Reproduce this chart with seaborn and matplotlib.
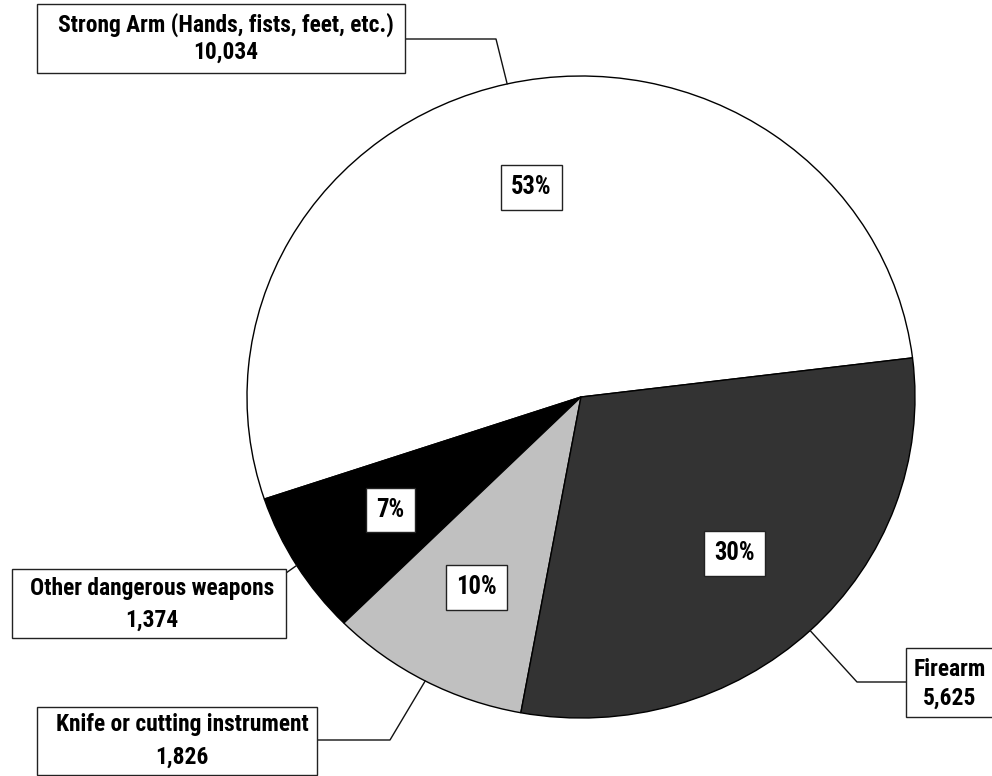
import matplotlib
matplotlib.use("Agg")
import matplotlib.pyplot as plt
from matplotlib.patches import Rectangle
from matplotlib import font_manager
from matplotlib.textpath import TextPath
from matplotlib.font_manager import FontProperties
import numpy as np
import seaborn as sns

# Aggravated assault by weapon type
categories = ["Strong Arm (Hands, fists, feet, etc.)", "Other dangerous weapons",
              "Knife or cutting instrument", "Firearm"]
counts = [10034, 1374, 1826, 5625]
count_labels = ["10,034", "1,374", "1,826", "5,625"]
colors = ["#FFFFFF", "#000000", "#C0C0C0", "#333333"]

sns.set_theme(style="white")

# pick a narrow bold face if one is installed
entries = font_manager.fontManager.ttflist
names = {f.name for f in entries}
preferred = ["Liberation Sans Narrow", "Roboto Condensed", "Open Sans Condensed",
             "Noto Sans Condensed", "Noto Sans Cond", "DejaVu Sans Condensed"]
FONT, STRETCH = None, "normal"
for p in preferred:
    if p in names:
        FONT = p
        break
if FONT is None:
    narrow = sorted(n for n in names if "Narrow" in n or "Cond" in n)
    if narrow:
        FONT = narrow[0]
    else:
        FONT = "DejaVu Sans"
        if any(f.name == "DejaVu Sans" and f.stretch != "normal" for f in entries):
            STRETCH = "condensed"
plt.rcParams["font.family"] = [FONT, "DejaVu Sans"]
plt.rcParams["text.color"] = "black"

# size the lettering so the longest label spans about 334 px
fp = FontProperties(family=FONT, weight="bold", stretch=STRETCH, size=100)
ext = TextPath((0, 0), categories[0], prop=fp).get_extents()
FS = 100 * 334 / ext.width * 72 / 100

W, H = 992, 776
fig = plt.figure(figsize=(W / 100, H / 100), dpi=100)
fig.patch.set_facecolor("white")

# pie geometry in pixels (slightly wider than tall)
CX, CY, RX, RY = 581, 397, 334, 321
ax = fig.add_axes([(CX - RX) / W, (H - CY - RY) / H, 2 * RX / W, 2 * RY / H])


def to_data(px, py):
    return (px - CX) / RX, (CY - py) / RY


text_style = dict(fontsize=FS, fontweight="bold", fontstretch=STRETCH, color="black")

wedges, _, pcts = ax.pie(
    counts, colors=colors, startangle=7.0, counterclock=True,
    autopct="%.0f%%", pctdistance=0.67,
    wedgeprops=dict(edgecolor="black", linewidth=1.0),
    textprops=dict(text_style, fontsize=FS * 1.05),
)
ax.set_aspect("auto")
ax.set_xlim(-1, 1)
ax.set_ylim(-1, 1)
ax.axis("off")

for t in pcts:
    t.set_bbox(dict(boxstyle="square,pad=0.42", facecolor="white",
                    edgecolor="#222222", linewidth=1.0))

# label boxes (left, top, right, bottom in px), text centre x, line rows, leader elbows
boxes = [(37, 4, 405, 73), (12, 569, 286, 638), (37, 707, 317, 775), (906, 648, 996, 717)]
text_x = [226, 152, 182, 950]
rows = [(25, 52), (588, 620), (725, 757), (670, 698)]
leaders = [[(405, 39), (496, 39)], [(286, 573)], [(317, 740), (390, 740)],
           [(906, 682), (857, 682)]]

for w, cat, lab, box, tx, (r1, r2), elbow in zip(
        wedges, categories, count_labels, boxes, text_x, rows, leaders):
    l, t, r, b = box
    x0, y0 = to_data(l, b)
    x1, y1 = to_data(r, t)
    ax.add_patch(Rectangle((x0, y0), x1 - x0, y1 - y0, facecolor="white",
                           edgecolor="#222222", linewidth=1.0, clip_on=False, zorder=3))
    ax.text(*to_data(tx, r1), cat, ha="center", va="center", clip_on=False,
            zorder=4, **text_style)
    ax.text(*to_data(tx, r2), lab, ha="center", va="center", clip_on=False,
            zorder=4, **text_style)
    mid = np.deg2rad((w.theta1 + w.theta2) / 2)
    pts = [to_data(*p) for p in elbow] + [(np.cos(mid), np.sin(mid))]
    xs, ys = zip(*pts)
    ax.plot(xs, ys, color="#111111", linewidth=1.0, clip_on=False, zorder=2)

fig.savefig("out.png", dpi=100, facecolor="white")
